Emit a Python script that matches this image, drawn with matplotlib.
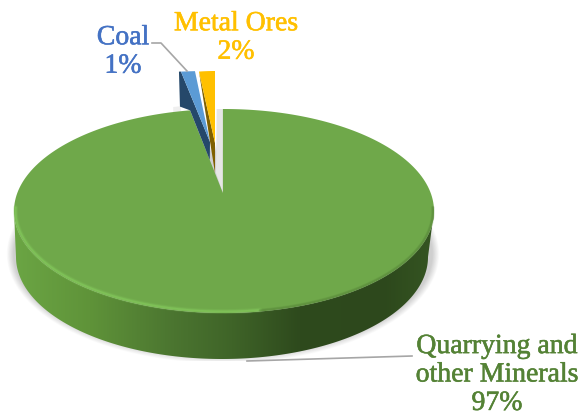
import numpy as np
import matplotlib
matplotlib.use("Agg")
import matplotlib.pyplot as plt
import matplotlib.patheffects as pe
from matplotlib.patches import Polygon, PathPatch, Rectangle
from matplotlib.path import Path
from matplotlib.colors import LinearSegmentedColormap

# Shares of mineral extraction
categories = ["Quarrying and\nother Minerals", "Metal Ores", "Coal"]
shares = [97, 2, 1]
percent_labels = ["97%", "2%", "1%"]

GREEN, YELLOW, BLUE = "#6FA84A", "#FFC000", "#5B9BD5"
GREEN_TXT, YELLOW_TXT, BLUE_TXT = "#548235", "#FFC000", "#4472C4"
FONT = "Liberation Serif"

fig = plt.figure(figsize=(5.82, 4.15), dpi=100)
ax = fig.add_axes([0, 0, 1, 1])
ax.set_xlim(0, 582)
ax.set_ylim(415, 0)
ax.axis("off")

# Sweep of each slice in degrees, measured anticlockwise from twelve o'clock
sweep = np.array(shares) / sum(shares) * 360
metal_start = 0.0
metal_end = metal_start + sweep[1]
coal_end = metal_end + sweep[2]


def arc(cx, cy, rx, ry, a0, a1, n=240):
    t = np.radians(np.linspace(a0, a1, n))
    return np.column_stack([cx - rx * np.sin(t), cy - ry * np.cos(t)])


cx, cy, rx, ry = 224, 211, 210, 102
depth = 46
apex = np.array([222.9, 193])
# The near edge of the cut appears a little narrower under perspective
main_start = coal_end - 1.5

# Soft shadow under the disc, cut off flat just below the wall
floor = Rectangle((0, 0), 582, 361, transform=ax.transData)
for grow in np.linspace(12, 1, 12):
    shadow = Polygon(arc(cx - 1, cy + depth - 3, rx + grow * 0.6 - 1, ry + grow * 0.6, 0, 360),
                     fc="black", ec="none", alpha=0.014, zorder=1)
    ax.add_patch(shadow)
    shadow.set_clip_path(floor)

# Disc wall with a left-to-right shading ramp
wall_cmap = LinearSegmentedColormap.from_list(
    "wall", [(0, "#6BA544"), (0.18, "#5F9339"), (0.38, "#4B7530"), (0.52, "#3F6428"),
             (0.68, "#2E4A1D"), (0.88, "#2D481C"), (1, "#355522")])
lower = arc(cx - 2, cy + depth, rx - 4, ry, 90, 270)
upper = arc(cx, cy, rx, ry, 270, 90)
wall = Path(np.vstack([lower, upper, lower[:1]]), closed=True)
grad = ax.imshow(np.linspace(0, 1, 256)[None, :], cmap=wall_cmap, aspect="auto",
                 extent=[cx - rx, cx + rx, 415, 0], zorder=2)
grad.set_clip_path(PathPatch(wall, transform=ax.transData))
ax.set_xlim(0, 582)
ax.set_ylim(415, 0)

# Main slice top, running the long way round
top = np.vstack([[apex], arc(cx, cy, rx, ry, main_start, 360.3)])
ax.add_patch(Polygon(top, fc=GREEN, ec="none", zorder=3))

# Bevel highlight following the front rim, soft dark blend on the shaded side
front = arc(cx, cy, rx - 1.5, ry - 1.5, 88, 190)
for width, alpha in [(5, 0.16), (3.4, 0.26), (1.8, 0.5)]:
    ax.plot(front[:, 0], front[:, 1], color="#86CC5E", lw=width * 0.72, alpha=alpha, zorder=3.1,
            solid_capstyle="round")
back = arc(cx, cy, rx - 1, ry - 1, 190, 272)
for width, alpha in [(3.5, 0.2), (2, 0.3)]:
    ax.plot(back[:, 0], back[:, 1], color="#4E7A33", lw=width * 0.72, alpha=alpha, zorder=3.1,
            solid_capstyle="round")

# Metal Ores slice
m_tip = np.array([215, 143])
m_rim = arc(m_tip[0], m_tip[1], 128, 72, metal_start, metal_end, 20)
m_low = m_tip + [0, 30]
ax.add_patch(Polygon(np.vstack([[m_tip], m_rim[-1:], [m_low]]), fc="#7F6000", ec="none", zorder=4))
ax.add_patch(Polygon(np.vstack([[m_tip], m_rim]), fc=YELLOW, ec="none", zorder=4.2))

# Pale recess beside the cut edge of the main slice
recess = np.vstack([[apex], arc(cx, cy, rx, ry, 0.3, 2.0, 12), [m_low + [1, 0]]])
ax.add_patch(Polygon(recess, fc="#E6E6E6", ec="none", zorder=2.5))
ax.add_patch(Polygon(np.vstack([arc(cx, cy, rx, ry, coal_end + 3.2, coal_end + 1.0, 8),
                                arc(cx, cy - 5, rx, ry, coal_end + 1.0, coal_end + 3.2, 8)]),
                     fc="#EFEFEF", ec="none", zorder=2.5))

# Coal slice, turned slightly by the viewing angle
c_tip = np.array([210, 142])
c_rim = arc(c_tip[0], c_tip[1], 224, 71, metal_end - 3.35, coal_end - 3.35, 20)
main_corner = arc(cx, cy, rx, ry, main_start, main_start, 1)[0]
edge_frac = (c_tip[1] + 18 - apex[1]) / (main_corner[1] - apex[1])
c_low = apex + (main_corner - apex) * edge_frac
side = np.vstack([[c_tip], c_rim[-1:], c_rim[-1:] + [-2, 0], c_rim[-1:] + [-1, 35], [main_corner], [c_low]])
ax.add_patch(Polygon(side, fc="#25486A", ec="none", zorder=3.6))
ax.add_patch(Polygon(np.vstack([[c_tip], c_rim]), fc=BLUE, ec="none", zorder=3.8))

# Leader lines
ax.plot([152, 161, 187], [43, 43, 71], color="#A6A6A6", lw=1.2, zorder=5)
ax.plot([247, 412], [361, 356], color="#A6A6A6", lw=1.2, zorder=5)

# Category labels
txt = dict(family=FONT, fontsize=20, ha="center", va="center", linespacing=1.18, zorder=6)


def label(x, y, text, color):
    t = ax.text(x, y, text, color=color, **txt)
    t.set_path_effects([pe.withStroke(linewidth=0.4, foreground=color)])


label(497, 375, categories[0] + "\n" + percent_labels[0], GREEN_TXT)
label(236, 38, categories[1] + "\n" + percent_labels[1], YELLOW_TXT)
label(123, 52, categories[2] + "\n" + percent_labels[2], BLUE_TXT)

fig.savefig("out.png", dpi=100)
